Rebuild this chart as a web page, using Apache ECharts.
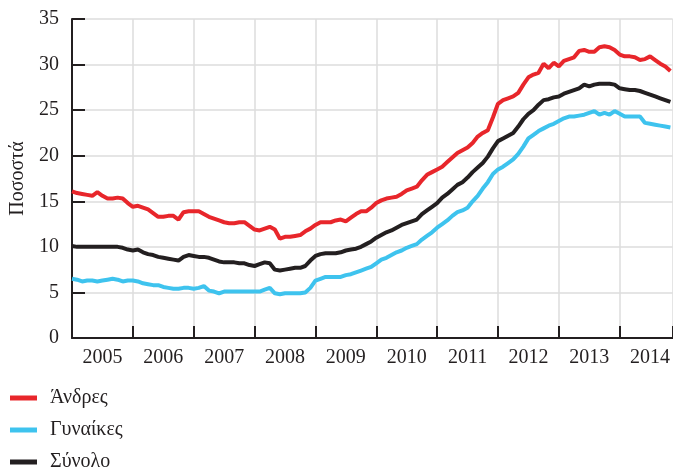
<!DOCTYPE html>
<html>
<head>
<meta charset="utf-8">
<script src="https://cdn.jsdelivr.net/npm/echarts@6/dist/echarts.min.js"></script>
<style>
html,body{margin:0;padding:0;background:#fff;}
#chart{width:673px;height:469px;}
</style>
</head>
<body>
<div id="chart"></div>
<script>
// Monthly series, January 2005 onward
const startYear = 2005;
const endValue = 2014.87;   // right edge of the visible period
const seriesNames = ['Άνδρες', 'Γυναίκες', 'Σύνολο'];
const yTicks = [0, 5, 10, 15, 20, 25, 30, 35];
const yearLabels = ['2005','2006','2007','2008','2009','2010','2011','2012','2013','2014'];

const men = [
16.1,15.9,15.8,15.7,15.6,16.0,15.6,15.3,15.3,15.4,15.3,14.8,
14.4,14.5,14.3,14.1,13.7,13.3,13.3,13.4,13.4,13.0,13.8,13.9,
13.9,13.9,13.6,13.3,13.1,12.9,12.7,12.6,12.6,12.7,12.7,12.3,
11.9,11.8,12.0,12.2,11.9,10.9,11.1,11.1,11.2,11.3,11.7,12.0,
12.4,12.7,12.7,12.7,12.9,13.0,12.8,13.2,13.6,13.9,13.9,14.3,
14.8,15.1,15.3,15.4,15.5,15.8,16.2,16.4,16.6,17.3,17.9,18.2,
18.5,18.8,19.3,19.8,20.3,20.6,20.9,21.4,22.1,22.5,22.8,24.2,
25.7,26.1,26.3,26.5,26.9,27.8,28.6,28.9,29.1,30.1,29.6,30.2,
29.8,30.4,30.6,30.8,31.5,31.6,31.4,31.4,31.9,32.0,31.9,31.6,
31.1,30.9,30.9,30.8,30.5,30.6,30.9,30.5,30.1,29.8,29.3
];
const women = [
6.5,6.4,6.2,6.3,6.3,6.2,6.3,6.4,6.5,6.4,6.2,6.3,
6.3,6.2,6.0,5.9,5.8,5.8,5.6,5.5,5.4,5.4,5.5,5.5,
5.4,5.5,5.7,5.2,5.1,4.9,5.1,5.1,5.1,5.1,5.1,5.1,
5.1,5.1,5.3,5.5,4.9,4.8,4.9,4.9,4.9,4.9,5.0,5.5,
6.3,6.5,6.7,6.7,6.7,6.7,6.9,7.0,7.2,7.4,7.6,7.8,
8.2,8.6,8.8,9.1,9.4,9.6,9.9,10.1,10.3,10.8,11.2,11.6,
12.1,12.5,12.9,13.4,13.8,14.0,14.3,15.0,15.6,16.4,17.1,18.0,
18.5,18.8,19.2,19.6,20.2,21.0,21.9,22.3,22.7,23.0,23.3,23.5,
23.8,24.1,24.3,24.3,24.4,24.5,24.7,24.9,24.5,24.7,24.5,24.9,
24.6,24.3,24.3,24.3,24.3,23.6,23.5,23.4,23.3,23.2,23.1
];
const total = [
10.1,10.0,10.0,10.0,10.0,10.0,10.0,10.0,10.0,10.0,9.9,9.7,
9.6,9.7,9.4,9.2,9.1,8.9,8.8,8.7,8.6,8.5,8.9,9.1,
9.0,8.9,8.9,8.8,8.6,8.4,8.3,8.3,8.3,8.2,8.2,8.0,
7.9,8.1,8.3,8.2,7.5,7.4,7.5,7.6,7.7,7.7,7.9,8.5,
9.0,9.2,9.3,9.3,9.3,9.4,9.6,9.7,9.8,10.0,10.3,10.6,
11.0,11.3,11.6,11.8,12.1,12.4,12.6,12.8,13.0,13.6,14.0,14.4,
14.8,15.4,15.8,16.3,16.8,17.1,17.6,18.2,18.7,19.2,19.9,20.8,
21.6,21.9,22.2,22.5,23.2,24.0,24.6,25.0,25.6,26.1,26.2,26.4,
26.5,26.8,27.0,27.2,27.4,27.8,27.6,27.8,27.9,27.9,27.9,27.8,
27.4,27.3,27.2,27.2,27.1,26.9,26.7,26.5,26.3,26.1,25.9
];

const colors = ['#e8262b', '#3ec3ee', '#231f20'];
const FONT = "'Liberation Serif', 'DejaVu Serif', serif";

function toPairs(arr) {
  return arr.map((v, i) => [startYear + i / 12, v]);
}

const chart = echarts.init(document.getElementById('chart'), null, {renderer: 'canvas'});
chart.setOption({
  animation: false,
  backgroundColor: '#ffffff',
  grid: {left: 69, top: 19, bottom: 131, right: 0, containLabel: false},
  legend: {
    orient: 'vertical',
    left: 10,
    top: 387,
    height: 90,
    padding: 0,
    itemWidth: 27,
    itemHeight: 5,
    itemGap: 10,
    icon: 'rect',
    data: seriesNames,
    textStyle: {fontFamily: FONT, fontSize: 20, color: '#231f20', lineHeight: 22, padding: [0, 0, 0, 8]}
  },
  xAxis: [
    {
      type: 'value', position: 'bottom', min: startYear, max: endValue, interval: 0.5,
      axisLine: {show: true, lineStyle: {color: '#231f20', width: 2}},
      axisTick: {show: false},
      splitLine: {show: false},
      axisLabel: {
        margin: 10, fontFamily: FONT, fontSize: 20, color: '#231f20',
        showMaxLabel: false,
        formatter: function (v) {
          const f = v - Math.floor(v);
          if (Math.abs(f - 0.5) < 1e-6) {
            const idx = Math.floor(v) - startYear;
            return yearLabels[idx] || '';
          }
          return '';
        }
      }
    },
    {
      type: 'value', position: 'bottom', min: startYear, max: endValue, interval: 1,
      axisLine: {show: false},
      axisTick: {show: true, inside: true, length: 12, lineStyle: {color: '#231f20', width: 2}},
      splitLine: {show: true, lineStyle: {color: '#dcdcdc', width: 1.5}},
      axisLabel: {show: false}
    }
  ],
  yAxis: {
    type: 'value', min: yTicks[0], max: yTicks[yTicks.length - 1], interval: 5,
    name: 'Ποσοστά', nameLocation: 'middle', nameGap: 44,
    nameTextStyle: {fontFamily: FONT, fontSize: 20, color: '#231f20'},
    axisLine: {show: true, lineStyle: {color: '#231f20', width: 2}},
    axisTick: {show: true, inside: true, length: 13, lineStyle: {color: '#231f20', width: 2}},
    splitLine: {show: true, lineStyle: {color: '#dcdcdc', width: 1.5}},
    axisLabel: {margin: 13, fontFamily: FONT, fontSize: 20, color: '#231f20'}
  },
  series: [
    {name: seriesNames[0], type: 'line', xAxisIndex: 0, data: toPairs(men), symbol: 'none', lineStyle: {color: colors[0], width: 4}, itemStyle: {color: colors[0]}},
    {name: seriesNames[1], type: 'line', xAxisIndex: 0, data: toPairs(women), symbol: 'none', lineStyle: {color: colors[1], width: 4}, itemStyle: {color: colors[1]}},
    {name: seriesNames[2], type: 'line', xAxisIndex: 0, data: toPairs(total), symbol: 'none', lineStyle: {color: colors[2], width: 4}, itemStyle: {color: colors[2]}}
  ]
});
</script>
</body>
</html>
